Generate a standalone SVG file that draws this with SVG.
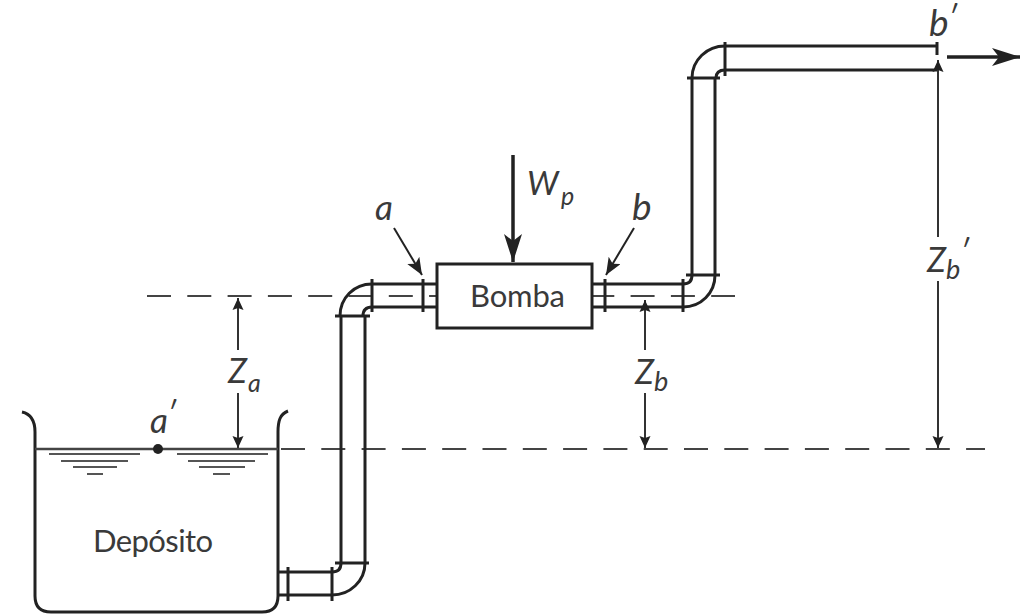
<svg xmlns="http://www.w3.org/2000/svg" width="1030" height="615" viewBox="0 0 1030 615">
<style>
.p{fill:none;stroke:#222;stroke-width:3}
.f{fill:none;stroke:#222;stroke-width:3}
.d{fill:none;stroke:#333;stroke-width:2}
.ds{fill:none;stroke:#444;stroke-width:2;stroke-dasharray:24 16.3}
.h{fill:none;stroke:#555;stroke-width:2}
text{font-family:"Lato","Noto Sans",sans-serif;fill:#3a3a3a}
.i{font-style:italic}
</style>
<defs>
<marker id="ah" markerUnits="userSpaceOnUse" markerWidth="14" markerHeight="16" refX="12" refY="7" orient="auto-start-reverse"><path d="M0 1.5L12 7L0 12.5L2 7Z" fill="#222"/></marker>
<marker id="med" markerUnits="userSpaceOnUse" markerWidth="20" markerHeight="16" refX="17" refY="7" orient="auto"><path d="M0 0L17 7L0 14L4 7Z" fill="#222"/></marker>
<marker id="big" markerUnits="userSpaceOnUse" markerWidth="30" markerHeight="22" refX="28" refY="10" orient="auto"><path d="M0 1L28 10L0 19L7 10Z" fill="#222"/></marker>
</defs>
<rect width="1030" height="615" fill="#fff"/>
<g id="datum-lines">
<path class="ds" d="M147 296H735"/>
<path class="ds" d="M281 449H985"/>
</g>
<g id="deposito">
<path class="p" d="M22 412C31 414 35 421 35 432V596Q35 612 51 612H262Q278 612 278 596V432C278 421 280 414 288 411"/>
<path d="M35 449H278" fill="none" stroke="#444" stroke-width="2.5"/>
<path class="h" d="M49 454H140M61 461H128M73 467H117M87 474H103M177 454H268M188 461H255M199 467H245M213 474H230"/>
<circle cx="158" cy="449" r="5" fill="#222"/>
<text x="93" y="552" font-size="31" textLength="120">Depósito</text>
</g>
<g id="bomba">
<rect x="437" y="264" width="155" height="64" fill="#fff" stroke="#222" stroke-width="3"/>
<text x="470" y="307" font-size="31" textLength="95">Bomba</text>
</g>
<g id="tuberia">
<path class="p" d="M278 572H332Q341 572 341 563V316M278 595H332C350 595 365 581 365 563V316"/>
<path class="f" d="M288 567V601M332 567V601M335 563H369"/>
<path class="p" d="M340 316C340 298 354 284 372 284H437M363 316Q363 307 372 307H437"/>
<path class="f" d="M335 316H370M372 279V312M423 279V312"/>
<path class="p" d="M592 284H683Q692 284 692 275V78M592 307H683C701 307 715 293 715 275V78"/>
<path class="f" d="M605 279V312M683 279V312M686 275H720"/>
<path class="p" d="M692 78C692 60 707 46 725 46H937M716 78Q716 70 725 70H937"/>
<path class="f" d="M687 78H720M725 42V76M937 42V55"/>
</g>
<g id="cotas">
<path class="d" d="M938 60V237" marker-start="url(#ah)"/>
<path class="d" d="M938 281V448" marker-end="url(#ah)"/>
<path class="d" d="M645 300V350" marker-start="url(#ah)"/>
<path class="d" d="M645 393V448" marker-end="url(#ah)"/>
<path class="d" d="M238 298V350" marker-start="url(#ah)"/>
<path class="d" d="M238 393V448" marker-end="url(#ah)"/>
<path d="M947 57H1020" fill="none" stroke="#222" stroke-width="3.5" marker-end="url(#big)"/>
<path d="M513 155V262" fill="none" stroke="#222" stroke-width="3.5" marker-end="url(#big)"/>
<path d="M394 228L422 275" fill="none" stroke="#222" stroke-width="2" marker-end="url(#med)"/>
<path d="M634 228L606 275" fill="none" stroke="#222" stroke-width="2" marker-end="url(#med)"/>
</g>
<g id="etiquetas">
<text class="i" x="375" y="220" font-size="35">a</text>
<text class="i" x="632" y="220" font-size="37">b</text>
<text class="i" x="150" y="433" font-size="35">a</text>
<text class="i" x="167" y="424" font-size="30">′</text>
<text class="i" x="929" y="36" font-size="37">b</text>
<text class="i" x="948" y="28" font-size="30">′</text>
<text class="i" x="527" y="195" font-size="33">W</text>
<text class="i" x="561" y="205" font-size="25">p</text>
<text class="i" x="228" y="383" font-size="34">Z</text>
<text class="i" x="248" y="392" font-size="25">a</text>
<text class="i" x="635" y="384" font-size="34">Z</text>
<text class="i" x="654" y="391" font-size="27">b</text>
<text class="i" x="927" y="272" font-size="34">Z</text>
<text class="i" x="946" y="279" font-size="27">b</text>
<text class="i" x="960" y="262" font-size="30">′</text>
</g>
</svg>
